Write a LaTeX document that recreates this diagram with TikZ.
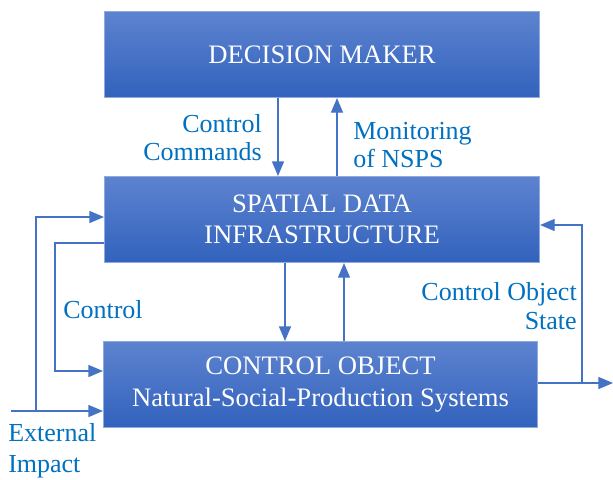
\documentclass[tikz,border=0pt]{standalone}
\usepackage{fontspec}
\setmainfont{Liberation Serif}
\usetikzlibrary{arrows.meta}
\definecolor{boxtop}{RGB}{93,131,207}
\definecolor{boxbot}{RGB}{50,98,189}
\definecolor{boxline}{RGB}{143,170,220}
\definecolor{conn}{RGB}{68,114,196}
\definecolor{lbl}{RGB}{0,112,192}
\tikzset{
  blockbox/.style={draw=boxline, line width=0.8pt, top color=boxtop, bottom color=boxbot,
    anchor=north west, inner sep=0pt, text=white, align=center,
    font=\rmfamily\fontsize{20}{23.5}\selectfont},
  conline/.style={draw=conn, line width=1.1pt},
  arr/.style={conline, -{Triangle[length=11pt,width=9pt]}},
  lab/.style={text=lbl, inner sep=0pt, font=\rmfamily\fontsize{19.5}{22}\selectfont}
}
\begin{document}
\begin{tikzpicture}[x=0.75pt,y=-0.75pt]
\useasboundingbox (0,0) rectangle (613,479);
% boxes
\node[blockbox, minimum width=435*0.75pt, minimum height=86*0.75pt] (dm) at (104,11) {DECISION MAKER};
\node[blockbox, minimum width=435*0.75pt, minimum height=86*0.75pt] (sdi) at (104,176) {SPATIAL DATA\\INFRASTRUCTURE};
\node[blockbox, minimum width=434*0.75pt, minimum height=86*0.75pt] (co) at (103,341) {CONTROL OBJECT\\Natural-Social-Production Systems};
% helper coordinates
\coordinate (xa) at (278,0);
\coordinate (xb) at (337,0);
\coordinate (xc) at (285,0);
\coordinate (xd) at (344,0);
\coordinate (ya) at (0,217);
\coordinate (yb) at (0,243);
\coordinate (yc) at (0,371);
\coordinate (yd) at (0,411);
\coordinate (ye) at (0,225);
\coordinate (yf) at (0,383);
\coordinate (lx1) at (36,0);
\coordinate (lx2) at (55,0);
\coordinate (ext) at (11,411);
\coordinate (rx) at (582,0);
\coordinate (out) at (613,383);
% connectors
\draw[arr] (dm.south -| xa) -- (sdi.north -| xa);
\draw[arr] (sdi.north -| xb) -- (dm.south -| xb);
\draw[arr] (sdi.south -| xc) -- (co.north -| xc);
\draw[arr] (co.north -| xd) -- (sdi.south -| xd);
\draw[arr] (ext) -- (co.west |- yd);
\draw[arr] (lx1 |- yd) -- (lx1 |- ya) -- (sdi.west |- ya);
\draw[arr] (sdi.west |- yb) -- (lx2 |- yb) -- (lx2 |- yc) -- (co.west |- yc);
\draw[arr] (co.east |- yf) -- (out);
\draw[arr] (rx |- yf) -- (rx |- ye) -- (sdi.east |- ye);
% labels
\node[lab, anchor=east, align=right, font=\rmfamily\fontsize{19.5}{21}\selectfont] (l1) at (262,138) {Control\\Commands};
\node[lab, anchor=west, align=left, font=\rmfamily\fontsize{19.5}{21}\selectfont] (l2) at (353,145) {Monitoring\\of NSPS};
\node[lab, anchor=base west] (l3) at (63,318) {Control};
\node[lab, anchor=east, align=right] (l4) at (577,306) {Control Object\\State};
\node[lab, anchor=west, align=left, font=\rmfamily\fontsize{19.5}{23}\selectfont] (l5) at (8,451) {External\\Impact};
\end{tikzpicture}
\end{document}
